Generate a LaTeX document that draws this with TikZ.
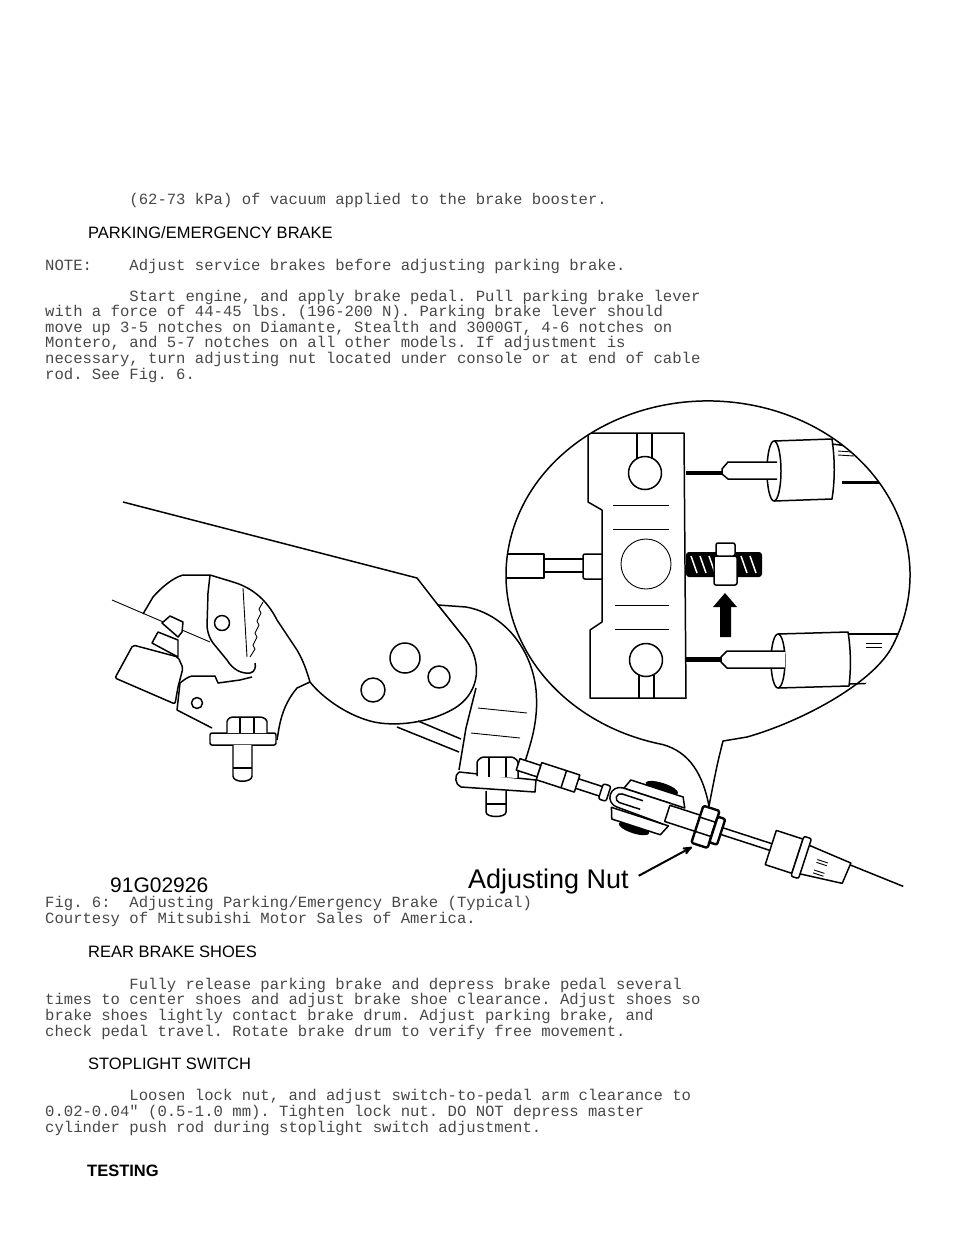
\documentclass[tikz,border=0pt]{standalone}
\usepackage{fontspec}
\newfontfamily\mono{Liberation Mono}
\newfontfamily\arial{Liberation Sans}
\usetikzlibrary{arrows}
\newcommand{\ind}{\hspace*{5.4em}}
\frenchspacing

\begin{document}
\begin{tikzpicture}[x=1bp,y=-1bp,>=stealth',line join=round]
  \tikzstyle{txt}=[anchor=base west,inner sep=0pt,align=left,text=black!72,font=\mono\fontsize{15.6bp}{15.6bp}\selectfont]
  \tikzstyle{head}=[anchor=base west,inner sep=0pt,font=\arial\fontsize{16.5bp}{16.5bp}\selectfont]
  \tikzstyle{part}=[line width=1.5pt]
  \tikzstyle{fine}=[line width=0.9pt]

  \useasboundingbox (0,0) rectangle (960,1242);

  % text above the figure (a multi-line node sits on its last line)
  \node [txt] (vacuum) at (45,204) {\ind(62-73 kPa) of vacuum applied to the brake booster.};
  \node [head] (parkhead) at (88,238) {PARKING/EMERGENCY BRAKE};
  \node [txt] (note) at (45,270) {NOTE:~~~~Adjust service brakes before adjusting parking brake.};
  \node [txt] (parkpara) at (45,379) {\ind Start engine, and apply brake pedal. Pull parking brake lever\\
    with a force of 44-45 lbs. (196-200 N). Parking brake lever should\\
    move up 3-5 notches on Diamante, Stealth and 3000GT, 4-6 notches on\\
    Montero, and 5-7 notches on all other models. If adjustment is\\
    necessary, turn adjusting nut located under console or at end of cable\\
    rod. See Fig. 6.};

  % brake lever
  \draw [part] (123,502) -- (417,578) -- (438,605) -- (466,640) .. controls (482,662) and (480,690) .. (458,706)
    .. controls (435,722) and (395,728) .. (370,721) .. controls (345,714) and (322,697) .. (310,682);
  \draw [part] (405,658) circle (15);
  \draw [part] (439,677) circle (11);
  \draw [part] (373,690) circle (12);
  \draw [part] (233,582) .. controls (250,587) and (266,598) .. (277,620) -- (297,650)
    .. controls (304,662) and (307,672) .. (310,682) -- (297,688) .. controls (287,700) and (282,712) .. (279,728) -- (277,740);

  % ratchet sector and pawl
  \draw [part] (143,614) -- (153,597) .. controls (160,589) and (172,578) .. (183,575) -- (210,575) -- (233,582);
  \draw [part] (210,575) -- (208,593) -- (207,627) .. controls (208,634) and (210,639) .. (213,643) -- (227,660)
    .. controls (233,670) and (242,674) .. (250,673) .. controls (255,672) and (256,667) .. (255,663);
  \draw [fine] (243,588) -- (247,657);
  \draw [fine] (263,602) -- (259,609) -- (261,613) -- (257,621) -- (259,625) -- (255,633) -- (257,637) -- (253,645) -- (255,649) -- (250,657);
  \draw [part] (222,623) circle (7.5);

  % switch
  \draw [fine] (112,600) -- (210,642);
  \draw [part,fill=white,rounded corners=2] (133,645) -- (115,678) -- (175,704) -- (178,687) -- (183,668) -- (178,657) -- cycle;
  \draw [part,fill=white] (162,623) -- (170,616) -- (183,622) -- (182,632) -- (178,637) -- cycle;
  \draw [part,fill=white] (152,643) -- (158,632) -- (178,640) -- (178,657) -- cycle;

  % bracket under the pawl
  \draw [part] (180,683) .. controls (185,679) and (188,677) .. (192,676) -- (215,676) -- (218,683) -- (240,680) -- (252,677);
  \draw [part] (180,683) -- (177,710) -- (212,728);
  \draw [part] (197,703) circle (5.5);
  \draw [part,fill=white,rounded corners=2] (210,733) rectangle (276,745);
  \draw [part,fill=white,rounded corners=1.5] (227,733) -- (227,720) -- (231,717) -- (262,717) -- (267,720) -- (267,733);
  \draw [part] (240,718) -- (240,733);
  \draw [part] (254,718) -- (254,733);
  \draw [part,fill=white] (233,745) -- (233,776) .. controls (233,783) and (252,783) .. (252,776) -- (252,745);
  \draw [part] (233,768) -- (252,768);

  % cable mount
  \draw [part] (438,605) -- (466,607) .. controls (505,614) and (532,650) .. (536,690) .. controls (539,722) and (530,745) .. (524,765);
  \draw [part] (476,688) -- (466,728) -- (459,770);
  \draw [part] (397,727) -- (459,752);
  \draw [part] (418,721) -- (461,739);
  \draw [fine] (478,708) -- (527,713);
  \draw [fine] (471,733) -- (520,738);
  \draw [part,fill=white] (459,772) -- (536,780) -- (535,792) -- (461,787) .. controls (455,785) and (454,775) .. (459,772);
  \draw [part,fill=white,rounded corners=1.5] (477,776) -- (477,761) -- (482,757) -- (513,757) -- (518,761) -- (518,778);
  \draw [part] (489,758) -- (489,777);
  \draw [part] (506,758) -- (506,777);
  \draw [part,fill=white] (486,791) -- (486,812) .. controls (486,818) and (506,818) .. (506,812) -- (506,791);
  \draw [part] (486,804) -- (506,804);

  % rod, clevis, adjusting nut and cable
  \begin{scope}[shift={(520,765)},rotate=-18]
    \draw [part,fill=white] (-2,-6) rectangle (20,6);
    \draw [part,fill=white] (20,-9) rectangle (60,9);
    \draw [part] (46,-9) -- (46,9);
    \draw [part] (60,-5) -- (85,-5);
    \draw [part] (60,5) -- (85,5);
    \draw [part,fill=white,rounded corners=2] (85,-8) rectangle (93,8);
    \fill (142,-22) ellipse [x radius=17,y radius=5];
    \fill (128,25) ellipse [x radius=16,y radius=5];
    \draw [part,fill=white] (106,-10) -- (110,-20) -- (165,-20) -- (170,-10) -- cycle;
    \draw [part,fill=white] (100,12) -- (104,23) -- (155,23) -- (160,12) -- cycle;
    \draw [part,fill=white] (155,-10) -- (105,-10) arc [start angle=270,end angle=90,radius=10] -- (155,12);
    \draw [part] (128,-4) -- (106,-4) arc [start angle=270,end angle=90,radius=4.5] -- (128,5);
    \draw [part,fill=white] (155,-8) rectangle (187,9);
    \draw [line width=2.4pt,fill=white,rounded corners=1.5] (187,-18) rectangle (204,21);
    \draw [part] (187,-6) -- (204,-6);
    \draw [part] (187,9) -- (204,9);
    \draw [line width=2.4pt,fill=white,rounded corners=2] (204,-12) rectangle (212,15);
    \draw [part] (212,-3) -- (264,-3);
    \draw [part] (212,4) -- (264,4);
    \draw [part,fill=white] (264,-17) rectangle (292,19);
    \draw [part,fill=white,rounded corners=2] (292,-20) rectangle (300,22);
    \draw [part] (300,-13) -- (345,-9) -- (343,13) -- (300,17);
    \draw [fine] (312,-2) -- (323,-2);
    \draw [fine] (312,1) -- (323,1);
    \draw [fine] (312,9) -- (323,9);
    \draw [fine] (312,12) -- (323,12);
    \draw [part] (345,-7) -- (402,-3);
  \end{scope}

  % magnified view of the equalizer
  \begin{scope}
    \clip (708,575) ellipse [x radius=202,y radius=174];
    \draw [part] (588,433) -- (684,433) -- (686,698) -- (590,698) -- (590,630) -- (602,622) -- (602,510) -- (588,502) -- cycle;
    \draw [part] (637,433) -- (637,459);
    \draw [part] (652,433) -- (652,459);
    \draw [part] (645,473) circle (16.5);
    \draw [part] (646,660) circle (16.5);
    \draw [part] (639,675) -- (639,698);
    \draw [part] (654,675) -- (654,698);
    \draw [fine] (646,564) circle (25);
    \draw [fine] (613,505) -- (669,505);
    \draw [fine] (613,529) -- (669,529);
    \draw [fine] (615,605) -- (669,605);
    \draw [fine] (615,629) -- (669,629);
    % rod to the lever
    \draw [part] (495,554) -- (544,554) -- (544,578) -- (495,578);
    \draw [part] (544,559) -- (583,559);
    \draw [part] (544,572) -- (583,572);
    \draw [part,rounded corners=2] (602,554) -- (583,554) -- (583,579) -- (602,579);
    % upper cable
    \draw [line width=5pt] (686,473) -- (724,473);
    \draw [part,fill=white] (774,441) -- (832,439) .. controls (835,460) and (835,480) .. (832,499) -- (774,501);
    \draw [part] (774,471) ellipse [x radius=7,y radius=30];
    \draw [part,fill=white] (777,462) -- (728,462) -- (722,469) -- (722,474) -- (728,479) -- (777,479);
    \draw [part] (832,444) -- (910,454);
    \draw [line width=3pt] (842,482) -- (910,482);
    \draw [fine] (838,451) -- (852,452);
    \draw [fine] (838,455) -- (854,456);
    % lower cable
    \draw [line width=5pt] (686,659) -- (722,659);
    \draw [part,fill=white] (778,634) -- (848,632) .. controls (851,650) and (851,670) .. (849,686) -- (778,688);
    \draw [part] (778,661) ellipse [x radius=7,y radius=27];
    \draw [part,fill=white] (785,651) -- (727,651) -- (721,657) -- (721,662) -- (727,668) -- (785,668);
    \draw [part] (848,634) -- (915,634);
    \draw [part] (850,684) -- (915,682);
    \draw [fine] (866,643) -- (882,643);
    \draw [fine] (866,647) -- (882,647);
    % adjusting bolt
    \fill [rounded corners=3] (686,552) rectangle (762,577);
    \foreach \x in {691,700,709,741,750}
      \draw [white,line width=1.5pt] (\x,556) -- (\x+6,573);
    \draw [part,fill=white,rounded corners=2] (714,556) rectangle (737,585);
    \draw [part,fill=white,rounded corners=2] (716,543) rectangle (735,556);
    \fill (725,593) -- (737,607) -- (731,607) -- (731,637) -- (720,637) -- (720,607) -- (713,607) -- cycle;
  \end{scope}
  \draw [part] (662.6,744.5) arc [start angle=103,end angle=385,x radius=202,y radius=174]
    .. controls (870,685) and (800,722) .. (747,737) -- (723,741)
    .. controls (717,765) .. (709,806) .. controls (703,775) and (690,752) .. (662.6,744.5);

  % figure labels
  \node [anchor=base west,inner sep=0pt,font=\arial\fontsize{21bp}{21bp}\selectfont] (figno) at (110,892) {91G02926};
  \node [anchor=base west,inner sep=0pt,font=\arial\fontsize{27bp}{27bp}\selectfont] (nutlabel) at (468,888) {Adjusting Nut};
  \coordinate (nutpt) at (692,847);
  \draw [->,line width=2pt,shorten <=11bp] (nutlabel.east) -- (nutpt);

  % text below the figure
  \node [txt] (figcap) at (45,923) {Fig. 6:~~Adjusting Parking/Emergency Brake (Typical)\\
    Courtesy of Mitsubishi Motor Sales of America.};
  \node [head] (rearhead) at (88,957) {REAR BRAKE SHOES};
  \node [txt] (rearpara) at (45,1036) {\ind Fully release parking brake and depress brake pedal several\\
    times to center shoes and adjust brake shoe clearance. Adjust shoes so\\
    brake shoes lightly contact brake drum. Adjust parking brake, and\\
    check pedal travel. Rotate brake drum to verify free movement.};
  \node [head] (stophead) at (88,1069) {STOPLIGHT SWITCH};
  \node [txt] (stoppara) at (45,1132) {\ind Loosen lock nut, and adjust switch-to-pedal arm clearance to\\
    0.02-0.04" (0.5-1.0 mm). Tighten lock nut. DO NOT depress master\\
    cylinder push rod during stoplight switch adjustment.};
  \node [head,font=\arial\bfseries\fontsize{16.5bp}{16.5bp}\selectfont] (testhead) at (87,1176) {TESTING};
\end{tikzpicture}
\end{document}
